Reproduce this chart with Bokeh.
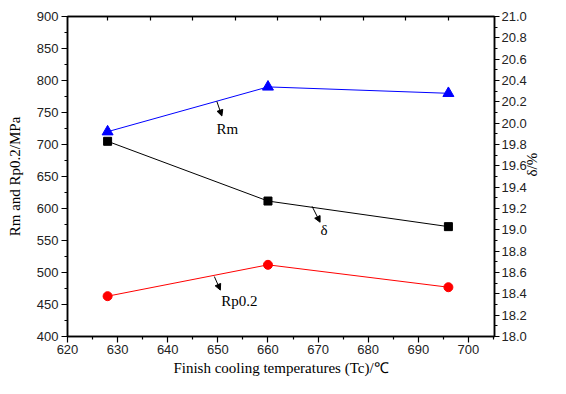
import math
from bokeh.plotting import figure
from bokeh.models import (LinearAxis, Range1d, FixedTicker, Arrow, NormalHead,
                          ColumnDataSource, NumeralTickFormatter)
from bokeh.core.properties import value
from bokeh.embed import file_html
from bokeh.resources import INLINE

# ---- data ----
temps = [628, 660, 696]
rm = [720, 790, 780]
rp02 = [463, 512, 477]
delta = [19.83, 19.27, 19.03]

x_ticks = [620, 630, 640, 650, 660, 670, 680, 690, 700]
top_ticks = [628, 636.5, 645, 653.5, 662, 670.5, 679, 687.5, 696]

ann_text = ["Rm", "δ", "Rp0.2"]
ann_x = [651.9, 671.2, 654.3]
ann_y = [725, 567, 455]
arr_x0 = [649.8, 668.8, 649.3]
arr_y0 = [767.4, 603.4, 493.7]
arr_x1 = [650.8, 670.4, 650.5]
arr_y1 = [744.5, 578.5, 472.5]

SERIF = "Liberation Serif"
SANS = "Liberation Sans"

p = figure(width=550, height=378, x_range=Range1d(620, 705.2), y_range=Range1d(400, 900),
           output_backend="svg", toolbar_location=None,
           min_border_left=67, min_border_right=40, min_border_top=16, min_border_bottom=38)
p.xgrid.visible = False
p.ygrid.visible = False
p.outline_line_color = "black"
p.outline_line_width = 1.5
p.background_fill_color = "white"
p.border_fill_color = "white"

p.extra_y_ranges = {"d": Range1d(18.0, 21.0)}

def style_axis(ax):
    ax.axis_line_width = 1.5
    ax.axis_line_color = "black"
    ax.major_tick_line_color = "black"
    ax.minor_tick_line_color = "black"
    ax.major_tick_line_width = 1.2
    ax.minor_tick_line_width = 1.2
    ax.major_label_text_font = SANS
    ax.major_label_text_font_size = "13px"
    ax.major_label_text_color = "#222222"
    ax.axis_label_text_font = SERIF
    ax.axis_label_text_font_size = "15px"
    ax.axis_label_text_font_style = "normal"
    ax.axis_label_text_color = "black"

# bottom axis
xa = p.xaxis[0]
style_axis(xa)
xa.ticker = FixedTicker(ticks=x_ticks, minor_ticks=[625, 635, 645, 655, 665, 675, 685, 695, 705])
xa.major_tick_in = 0
xa.major_tick_out = 6
xa.minor_tick_in = 0
xa.minor_tick_out = 3
xa.major_label_standoff = 2
xa.axis_label = "Finish cooling temperatures (Tc)/℃"
xa.axis_label_standoff = 3

# left axis
ya = p.yaxis[0]
style_axis(ya)
ya.ticker = FixedTicker(ticks=list(range(400, 901, 50)),
                        minor_ticks=[425 + 50 * i for i in range(10)])
ya.major_tick_in = 0
ya.major_tick_out = 6
ya.minor_tick_in = 0
ya.minor_tick_out = 3
ya.major_label_standoff = 3
ya.axis_label = "Rm and Rp0.2/MPa"
ya.axis_label_standoff = 11

# right axis
ra = LinearAxis(y_range_name="d")
style_axis(ra)
ra.ticker = FixedTicker(ticks=[round(18 + 0.2 * i, 1) for i in range(16)],
                        minor_ticks=[round(18.1 + 0.2 * i, 1) for i in range(15)])
ra.formatter = NumeralTickFormatter(format="0.0")
ra.major_tick_in = 0
ra.major_tick_out = 5
ra.minor_tick_in = 0
ra.minor_tick_out = 3
ra.major_label_standoff = 2
ra.axis_label = "δ/%"
ra.axis_label_standoff = 2
ra.axis_label_orientation = math.pi / 2
p.add_layout(ra, "right")

# top axis (ticks only)
ta = LinearAxis()
style_axis(ta)
ta.ticker = FixedTicker(ticks=top_ticks, minor_ticks=[])
ta.major_tick_in = 4
ta.major_tick_out = 0
ta.major_label_text_font_size = "0px"
ta.major_label_standoff = 0
p.add_layout(ta, "above")

# series
p.line(temps, rm, line_color="#0000ff", line_width=1)
p.scatter(temps, rm, marker="triangle", size=11, fill_color="#0000ff", line_color="#0000ff")

p.line(temps, delta, line_color="black", line_width=1, y_range_name="d")
p.scatter(temps, delta, marker="square", size=8, fill_color="black", line_color="black",
          y_range_name="d")

p.line(temps, rp02, line_color="#ff0000", line_width=1)
p.scatter(temps, rp02, marker="circle", size=9, fill_color="#ff0000", line_color="#ff0000")

# annotations
src = ColumnDataSource(dict(x=ann_x, y=ann_y, t=ann_text))
p.text(x="x", y="y", text="t", source=src, text_font=value(SERIF), text_font_size="15px",
       text_align="center", text_baseline="middle", text_color="black")

for i in range(len(arr_x0)):
    p.add_layout(Arrow(end=NormalHead(size=6, fill_color="black", line_color="black",
                                      line_width=1),
                       x_start=arr_x0[i], y_start=arr_y0[i], x_end=arr_x1[i], y_end=arr_y1[i],
                       line_color="black", line_width=1))

open("out.html", "w").write(file_html(p, INLINE))
